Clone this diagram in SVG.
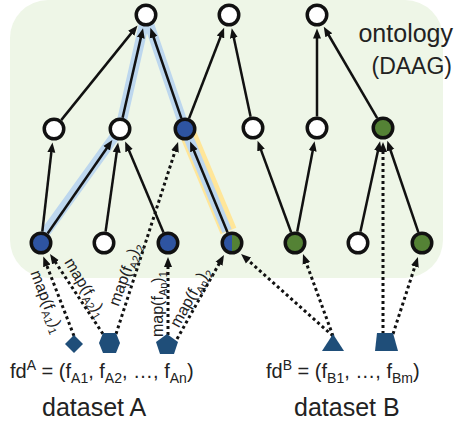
<svg xmlns="http://www.w3.org/2000/svg" width="455" height="424" viewBox="0 0 455 424">
<defs>
<marker id="ah" markerUnits="userSpaceOnUse" markerWidth="12" markerHeight="10" viewBox="0 -5 12 10" refX="5" refY="0" orient="auto"><path d="M0,-4 L10,0 L0,4 z" fill="#111"/></marker>
<style>
.n{stroke:#111;stroke-width:3.5}
.w{fill:#fff}
.b{fill:#2E54A1}
.g{fill:#548235}
.e{stroke:#111;stroke-width:2.5;fill:none;marker-end:url(#ah)}
.d{stroke:#111;stroke-width:3;stroke-dasharray:3 3;fill:none;marker-end:url(#ah)}
.t{font-family:"Liberation Sans",Arial,sans-serif;fill:#222}
.m{font-family:"Liberation Sans",Arial,sans-serif;fill:#222;font-size:16px}
.s{font-size:11px}
.f{fill:#1F4E79}
.hb{stroke:#BDD7EE;stroke-width:10;fill:none;stroke-linejoin:round}
.ho{stroke:#FFE699;stroke-width:17;fill:none}
</style>
</defs>
<rect x="10" y="0" width="433" height="278" rx="38" fill="#EEF6E7"/>
<g id="highlights">
<line class="ho" x1="186" y1="129" x2="228.5" y2="231"/>
<polyline class="hb" points="45,233 120,129 146,15"/>
<polyline class="hb" points="227,231 185,129 146,15"/>
</g>
<g id="connectors">
<line class="e" x1="61.2" y1="120.1" x2="134.4" y2="29.4"/>
<line class="e" x1="122.6" y1="117.8" x2="141.9" y2="33.1"/>
<line class="e" x1="181.3" y1="118.1" x2="152.0" y2="32.5"/>
<line class="e" x1="189.1" y1="118.3" x2="222.3" y2="32.3"/>
<line class="e" x1="250.6" y1="116.8" x2="232.8" y2="33.1"/>
<line class="e" x1="317" y1="116.5" x2="317" y2="33.5"/>
<line class="e" x1="377.2" y1="118.1" x2="326.3" y2="31.0"/>
<line class="e" x1="42.3" y1="231.6" x2="51.9" y2="147.4"/>
<line class="e" x1="47.6" y1="233.5" x2="109.5" y2="144.2"/>
<line class="e" x1="105.6" y1="231.6" x2="117.4" y2="147.4"/>
<line class="e" x1="163.5" y1="232.4" x2="127.1" y2="146.0"/>
<line class="e" x1="227.6" y1="232.4" x2="192.0" y2="146.1"/>
<line class="e" x1="291.1" y1="232.2" x2="259.3" y2="145.4"/>
<line class="e" x1="297.2" y1="231.7" x2="313.6" y2="146.2"/>
<line class="e" x1="360.4" y1="231.8" x2="379.0" y2="146.1"/>
<line class="e" x1="418.3" y1="232.1" x2="388.9" y2="145.5"/>
<line class="d" x1="74" y1="336" x2="45.1" y2="261.2"/>
<line class="d" x1="103" y1="334" x2="52.8" y2="258.2"/>
<line class="d" x1="116" y1="334" x2="176.5" y2="146.8"/>
<line class="d" x1="168" y1="335" x2="168" y2="262"/>
<line class="d" x1="177" y1="339" x2="221.5" y2="259.4"/>
<line class="d" x1="333" y1="336" x2="244.8" y2="257.3"/>
<line class="d" x1="333" y1="336" x2="304.7" y2="258.7"/>
<line class="d" x1="383" y1="334" x2="383" y2="147"/>
<line class="d" x1="393" y1="334" x2="416.4" y2="261.8"/>
</g>
<g id="edge-labels">
<text class="m" transform="translate(30.2,272.7) rotate(69)">map(f<tspan class="s" dy="4">A1</tspan><tspan dy="-4">)</tspan><tspan class="s" dy="4">1</tspan></text>
<text class="m" transform="translate(64,262) rotate(59)">map(f<tspan class="s" dy="4">A2</tspan><tspan dy="-4">)</tspan><tspan class="s" dy="4">1</tspan></text>
<text class="m" transform="translate(118.5,307) rotate(-70)">map(f<tspan class="s" dy="4">A2</tspan><tspan dy="-4">)</tspan><tspan class="s" dy="4">2</tspan></text>
<text class="m" transform="translate(163,337) rotate(-90)">map(f<tspan class="s" dy="4">An</tspan><tspan dy="-4">)</tspan><tspan class="s" dy="4">1</tspan></text>
<text class="m" transform="translate(178.8,328.5) rotate(-61)">map(f<tspan class="s" dy="4">An</tspan><tspan dy="-4">)</tspan><tspan class="s" dy="4">2</tspan></text>
</g>
<g id="T1"><circle class="n w" cx="146" cy="15" r="9.75"/></g>
<g id="T2"><circle class="n w" cx="229" cy="15" r="9.75"/></g>
<g id="T3"><circle class="n w" cx="317" cy="15" r="9.75"/></g>
<g id="M1"><circle class="n w" cx="54" cy="129" r="9.75"/></g>
<g id="M2"><circle class="n w" cx="120" cy="129" r="9.75"/></g>
<g id="M3"><circle class="n b" cx="185" cy="129" r="9.75"/></g>
<g id="M4"><circle class="n w" cx="253" cy="128" r="9.75"/></g>
<g id="M5"><circle class="n w" cx="317" cy="128" r="9.75"/></g>
<g id="M6"><circle class="n g" cx="383" cy="128" r="9.75"/></g>
<g id="B1"><circle class="n b" cx="41" cy="243" r="9.75"/></g>
<g id="B2"><circle class="n w" cx="104" cy="243" r="9.75"/></g>
<g id="B3"><circle class="n b" cx="168" cy="243" r="9.75"/></g>
<g id="B4">
<path class="b" d="M232,233.25 A9.75,9.75 0 0 0 232,252.75 Z"/>
<path class="g" d="M232,233.25 A9.75,9.75 0 0 1 232,252.75 Z"/>
<circle class="n" cx="232" cy="243" r="9.75" fill="none"/>
</g>
<g id="B5"><circle class="n g" cx="295" cy="243" r="9.75"/></g>
<g id="B6"><circle class="n w" cx="358" cy="243" r="9.75"/></g>
<g id="B7"><circle class="n g" cx="422" cy="243" r="9.75"/></g>
<g id="fA1"><polygon class="f" points="74,335 83,344 74,353 65,344"/></g>
<g id="fA2"><polygon class="f" points="103,333 116,333 120,343 116,353 103,353 99,343"/></g>
<g id="fAn"><polygon class="f" points="167,334 178,342 174,354 160,354 156,342"/></g>
<g id="fB1"><polygon class="f" points="333,334 344,351 322,351"/></g>
<g id="fBm"><polygon class="f" points="377,333 393,333 398,351 375,351"/></g>
<g id="texts">
<text class="t" x="453" y="42" font-size="25" text-anchor="end">ontology</text>
<text class="t" x="452" y="74" font-size="23" text-anchor="end">(DAAG)</text>
<text class="t" x="10" y="378" font-size="20">fd<tspan font-size="14" dy="-8">A</tspan><tspan dy="8"> = (f</tspan><tspan font-size="14" dy="5">A1</tspan><tspan dy="-5">, f</tspan><tspan font-size="14" dy="5">A2</tspan><tspan dy="-5">, …, f</tspan><tspan font-size="14" dy="5">An</tspan><tspan dy="-5">)</tspan></text>
<text class="t" x="266" y="378" font-size="20">fd<tspan font-size="14" dy="-8">B</tspan><tspan dy="8"> = (f</tspan><tspan font-size="14" dy="5">B1</tspan><tspan dy="-5">, …, f</tspan><tspan font-size="14" dy="5">Bm</tspan><tspan dy="-5">)</tspan></text>
<text class="t" x="42" y="416" font-size="25">dataset A</text>
<text class="t" x="294" y="416" font-size="25">dataset B</text>
</g>
</svg>
